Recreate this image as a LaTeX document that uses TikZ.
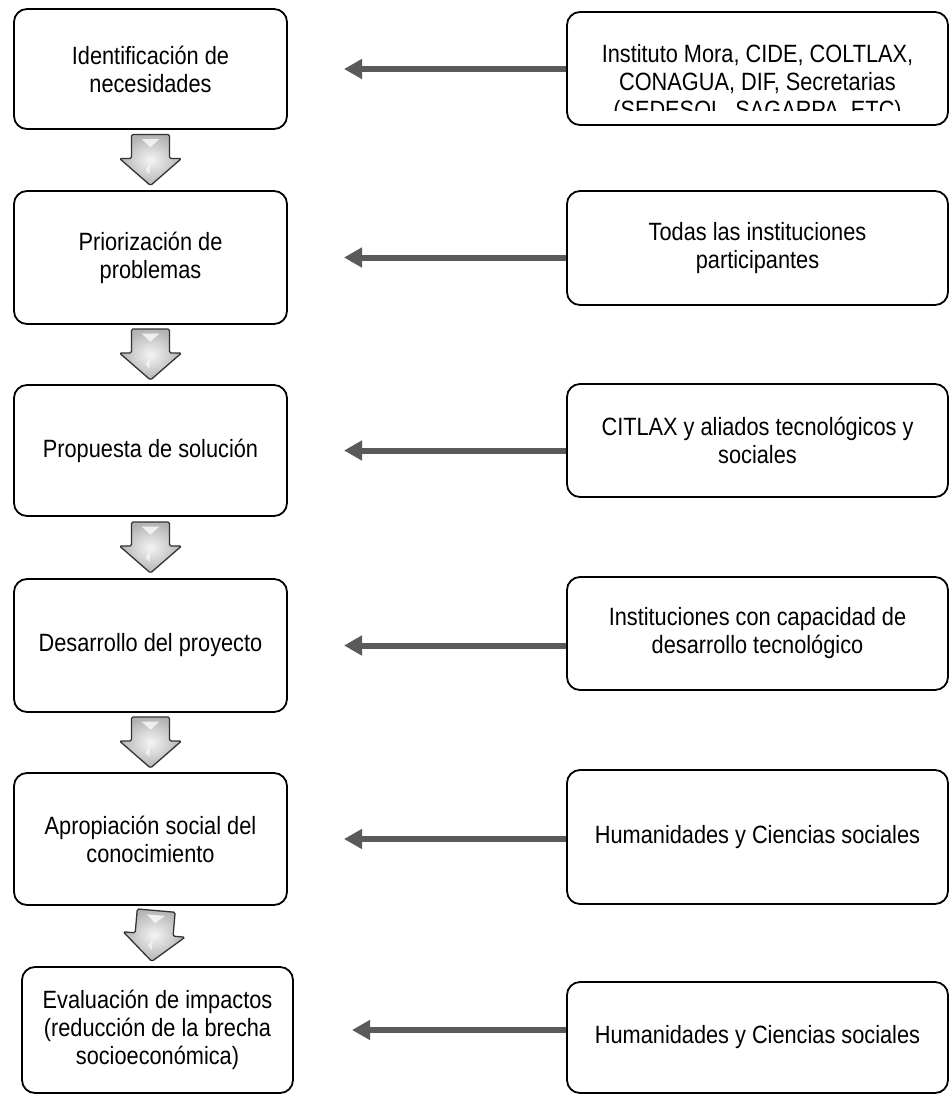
\documentclass[tikz,border=0pt]{standalone}
\usepackage{fontspec}
\setmainfont{Liberation Sans}[FakeStretch=0.87]
\usetikzlibrary{arrows.meta,calc}
\definecolor{conncol}{HTML}{5A5A5A}
\begin{document}
\begin{tikzpicture}[x=1pt,y=-1pt,
  boxstyle/.style={draw=black, line width=1.8pt, rounded corners=13pt, align=center,
    font=\fontsize{25}{28}\selectfont, inner sep=0pt},
  lbox/.style={boxstyle, minimum width=273pt},
  rbox/.style={boxstyle, minimum width=381pt},
  conn/.style={draw=conncol, line width=6pt, -{Triangle[length=18pt,width=19pt]}},
  downarr/.pic={
    \path[draw=black!80, line width=1.3pt, rounded corners=1.5pt, shading=radial,
      inner color=gray!8, outer color=gray!60]
      (-19,-25.5) -- (19,-25.5) -- (19,-1.5) -- (31,-1.5) -- (0,25.5) -- (-31,-1.5) -- (-19,-1.5) -- cycle;
    \fill[white, opacity=0.75] (-9,-21) -- (9,-21) -- (0,-13) -- cycle;
    \fill[white, opacity=0.6] (-5,10) -- (-1,4) -- (-1,14) -- cycle;
  }]
\useasboundingbox (0,0) rectangle (951,1096);

% left column
\node[lbox, minimum height=120pt] (L1) at (150.5,69) {Identificación de\\necesidades};
\node[lbox, minimum height=133pt] (L2) at (150.5,257.5) {Priorización de\\problemas};
\node[lbox, minimum height=131pt] (L3) at (150.5,450.5) {Propuesta de solución};
\node[lbox, minimum height=133pt] (L4) at (150.5,645.5) {Desarrollo del proyecto};
\node[lbox, minimum height=132pt] (L5) at (150.5,839) {Apropiación social del\\conocimiento};
\node[lbox, minimum height=126pt, minimum width=271pt] (L6) at (157.5,1030) {Evaluación de impactos\\(reducción de la brecha\\socioeconómica)};

% right column
\node[rbox, minimum height=113pt] (R1) at (757.5,68.5) {};
\node[rbox, minimum height=114pt] (R2) at (757.5,248) {Todas las instituciones\\participantes};
\node[rbox, minimum height=113pt] (R3) at (757.5,440.5) {CITLAX y aliados tecnológicos y\\sociales};
\node[rbox, minimum height=113pt] (R4) at (757.5,633.5) {Instituciones con capacidad de\\desarrollo tecnológico};
\node[rbox, minimum height=134pt] (R5) at (757.5,837) {Humanidades y Ciencias sociales};
\node[rbox, minimum height=111pt] (R6) at (757.5,1037.5) {Humanidades y Ciencias sociales};

% clipped text of the first right box
\begin{scope}
  \clip ([yshift=15pt]R1.south west) rectangle (R1.north east);
  \node[anchor=north, align=center, inner sep=0pt, font=\fontsize{25}{28}\selectfont] (R1text)
    at ([yshift=-33pt]R1.north) {Instituto Mora, CIDE, COLTLAX,\\CONAGUA, DIF, Secretarias\\(SEDESOL, SAGARPA, ETC)};
\end{scope}

% arrow tips
\coordinate (t1) at (344,0);
\coordinate (t6) at (352,0);

% horizontal connectors
\draw[conn] (L1.east -| R1.west) -- (L1.east -| t1);
\draw[conn] (L2.east -| R2.west) -- (L2.east -| t1);
\draw[conn] (L3.east -| R3.west) -- (L3.east -| t1);
\draw[conn] (L4.east -| R4.west) -- (L4.east -| t1);
\draw[conn] (L5.east -| R5.west) -- (L5.east -| t1);
\draw[conn] (L6.east -| R6.west) -- (L6.east -| t6);

% block down arrows
\pic at ($(L1.south)!0.5!(L2.north)$) {downarr};
\pic at ($(L2.south)!0.5!(L3.north)$) {downarr};
\pic at ($(L3.south)!0.5!(L4.north)$) {downarr};
\pic at ($(L4.south)!0.5!(L5.north)$) {downarr};
\pic[rotate=-5] at ($(L5.south)!0.5!(L6.north)$) {downarr};
\end{tikzpicture}
\end{document}
